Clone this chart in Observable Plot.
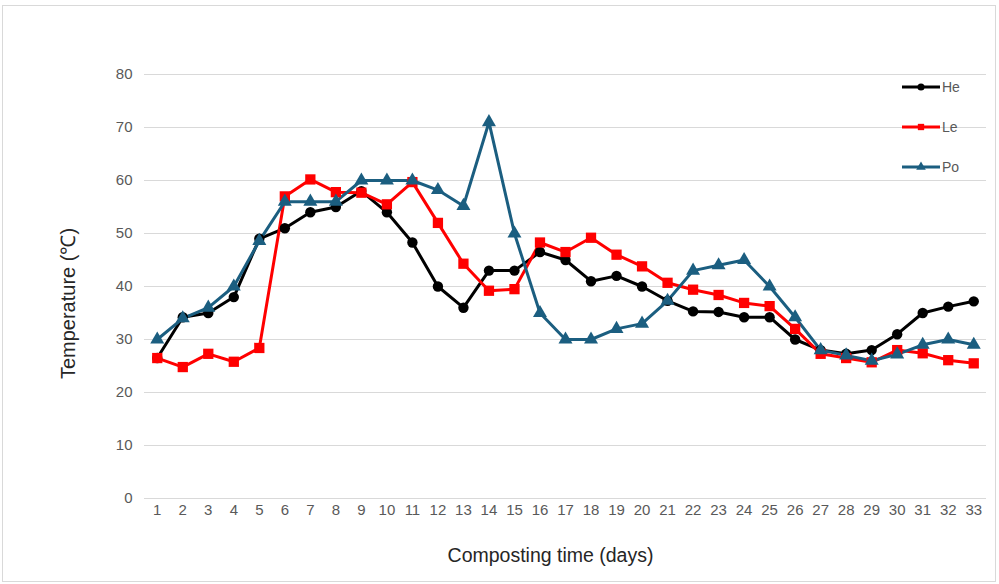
<!DOCTYPE html>
<html><head><meta charset="utf-8">
<script src="https://cdn.jsdelivr.net/npm/d3@7"></script>
<script src="https://cdn.jsdelivr.net/npm/@observablehq/plot@0.6"></script>
<style>
body{margin:0;background:#fff;font-family:"Liberation Sans",Arial,sans-serif}
#wrap{position:relative;width:999px;height:584px}
#border{position:absolute;left:2px;top:5px;width:992px;height:575px;border:1px solid #d9d9d9;pointer-events:none}
#legend{position:absolute;left:895px;top:72px}
</style></head><body>
<div id="wrap"><div id="border"></div><svg id="legend" width="90" height="110"></svg></div>
<script>
const days = [1,2,3,4,5,6,7,8,9,10,11,12,13,14,15,16,17,18,19,20,21,22,23,24,25,26,27,28,29,30,31,32,33];
const seriesNames = ["He","Le","Po"];
const seriesColors = ["#000000","#ff0000","#1b5e80"];
const seriesSymbols = ["circle","square","triangle"];
const yTicks = [0,10,20,30,40,50,60,70,80];
const he = [26.5,34.2,35,38,49,51,54,55,58,54,48.3,40,36,43,43,46.5,45,41,42,40,37.3,35.3,35.2,34.2,34.2,30,28,27.3,28,31,35,36.2,37.2];
const le = [26.5,24.8,27.3,25.8,28.4,57,60.2,57.8,57.7,55.5,59.7,52,44.3,39.2,39.5,48.3,46.5,49.2,46,43.8,40.7,39.4,38.4,36.9,36.3,32,27.3,26.5,25.7,28,27.4,26.1,25.5];
const po = [30,34,36,40,48.6,56,56,56,60,60,60,58.2,55.2,71,50,35,30,30,32,33,37.3,43,44,45,40,34.2,28,27,26,27.2,29,30,29];
const seriesValues = [he, le, po];

const data = [];
seriesNames.forEach((s, i) => days.forEach((d, j) => data.push({series: s, day: d, value: seriesValues[i][j]})));

const dotMarks = seriesNames.map((s, i) => Plot.dot(data.filter(d => d.series === s), {
  x: "day", y: "value", fill: seriesColors[i], symbol: seriesSymbols[i], r: i === 1 ? 5.8 : 5.2
}));

const chart = Plot.plot({
  width: 999, height: 584,
  marginLeft: 144, marginRight: 13, marginTop: 74, marginBottom: 86,
  style: {fontFamily: '"Liberation Sans", Arial, sans-serif', fontSize: "15px", background: "transparent"},
  x: {type: "linear", domain: [0.5, 33.5], label: null},
  y: {domain: [0, 80], label: null},
  color: {domain: seriesNames, range: seriesColors},
  marks: [
    Plot.ruleY(yTicks, {stroke: "#d9d9d9", strokeWidth: 1}),
    Plot.axisX({ticks: days, tickFormat: d => String(d), tickSize: 0, tickPadding: 6, fill: "#595959", fontSize: 15}),
    Plot.axisY({ticks: yTicks, tickSize: 0, tickPadding: 12, fill: "#595959", fontSize: 15}),
    Plot.line(data, {x: "day", y: "value", stroke: "series", strokeWidth: 3}),
    ...dotMarks,
    Plot.text(["Composting time (days)"], {frameAnchor: "bottom", dy: 63, dx: -15, fontSize: 19.5, fill: "#262626"}),
    Plot.text(["Temperature (℃)"], {frameAnchor: "left", textAnchor: "middle", dx: -76, dy: 17, rotate: -90, fontSize: 20, fill: "#262626"})
  ]
});
const wrap = document.getElementById("wrap");
wrap.insertBefore(chart, wrap.firstChild);

const lg = d3.select("#legend");
const sym = {circle: d3.symbolCircle, square: d3.symbolSquare, triangle: d3.symbolTriangle};
seriesNames.forEach((s, i) => {
  const g = lg.append("g").attr("transform", `translate(0,${15 + i * 40})`);
  g.append("line").attr("x1", 7).attr("x2", 45).attr("stroke", seriesColors[i]).attr("stroke-width", 3);
  g.append("path").attr("d", d3.symbol(sym[seriesSymbols[i]], 40)()).attr("transform", "translate(26,0)").attr("fill", seriesColors[i]);
  g.append("text").attr("x", 47).attr("dy", "0.35em").attr("font-size", 14).attr("fill", "#595959").text(s);
});
</script>
</body></html>
